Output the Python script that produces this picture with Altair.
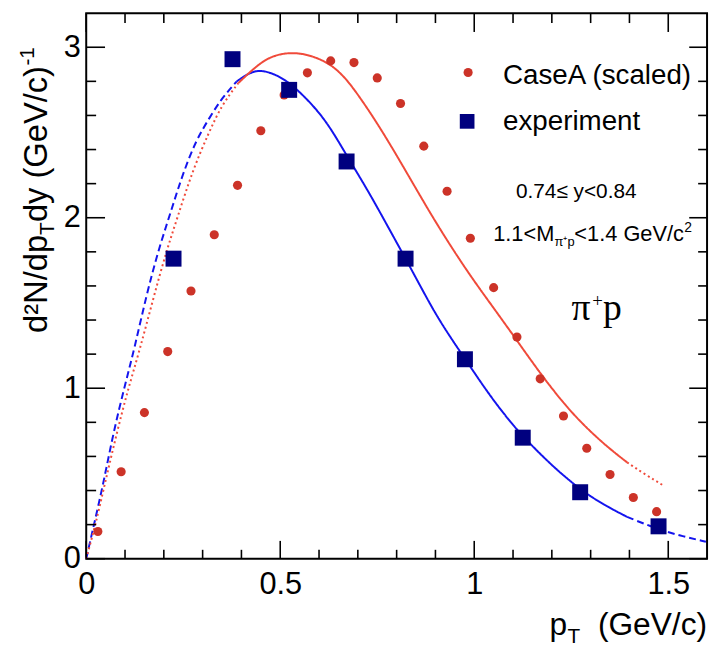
import altair as alt
import pandas as pd

# ---------------- data ----------------
casea_x = [0.03, 0.09, 0.15, 0.21, 0.27, 0.33, 0.39, 0.45, 0.51, 0.57, 0.63, 0.69, 0.75,
           0.81, 0.87, 0.93, 0.99, 1.05, 1.11, 1.17, 1.23, 1.29, 1.35, 1.41, 1.47]
casea_y = [0.16, 0.51, 0.857, 1.215, 1.57, 1.90, 2.19, 2.51, 2.72, 2.85, 2.92, 2.91, 2.82,
           2.67, 2.42, 2.155, 1.88, 1.59, 1.30, 1.055, 0.837, 0.648, 0.494, 0.359, 0.276]

exp_x = [0.225, 0.377, 0.523, 0.671, 0.823, 0.976, 1.125, 1.273, 1.475]
exp_y = [1.76, 2.93, 2.75, 2.33, 1.76, 1.17, 0.71, 0.39, 0.19]

blue_x = [0.0, 0.02, 0.045, 0.07, 0.10, 0.125, 0.155, 0.185, 0.206, 0.227, 0.248, 0.282,
          0.316, 0.349, 0.388, 0.42, 0.451, 0.50, 0.54, 0.58, 0.624, 0.675, 0.726, 0.777,
          0.823, 0.862, 0.904, 0.95, 0.98, 1.03, 1.081, 1.124, 1.20, 1.276, 1.335, 1.394,
          1.471, 1.53, 1.597]
blue_y = [0.0, 0.20, 0.45, 0.74, 1.02, 1.24, 1.545, 1.80, 1.95, 2.10, 2.25, 2.45,
          2.58, 2.70, 2.80, 2.85, 2.87, 2.83, 2.76, 2.67, 2.55, 2.35, 2.16, 1.95,
          1.76, 1.595, 1.42, 1.26, 1.16, 0.99, 0.835, 0.72, 0.545, 0.40, 0.315, 0.245,
          0.175, 0.135, 0.10]
blue_solid = (0.388, 1.394)

red_x = [0.0, 0.024, 0.049, 0.079, 0.106, 0.138, 0.172, 0.206, 0.235, 0.273, 0.316, 0.349,
         0.392, 0.443, 0.48, 0.523, 0.57, 0.624, 0.66, 0.692, 0.743, 0.794, 0.85, 0.904,
         0.98, 1.047, 1.107, 1.166, 1.22, 1.27, 1.335, 1.394, 1.44, 1.487]
red_y = [0.0, 0.20, 0.45, 0.74, 0.98, 1.225, 1.52, 1.80, 2.00, 2.27, 2.50, 2.66,
         2.79, 2.90, 2.95, 2.97, 2.96, 2.91, 2.84, 2.75, 2.58, 2.39, 2.17, 1.96,
         1.69, 1.48, 1.29, 1.10, 0.94, 0.81, 0.67, 0.565, 0.495, 0.43]
red_solid = (0.392, 1.394)

x_major = [0.0, 0.5, 1.0, 1.5]
x_minor = [0.1, 0.2, 0.3, 0.4, 0.6, 0.7, 0.8, 0.9, 1.1, 1.2, 1.3, 1.4]
y_major = [0, 1, 2, 3]
y_minor = [0.2, 0.4, 0.6, 0.8, 1.2, 1.4, 1.6, 1.8, 2.2, 2.4, 2.6, 2.8]

# ---------------- style ----------------
W, H = 627, 551
BLUE_LINE = "#1414ee"
RED_LINE = "#f04a3a"
RED_DOT = "#cc3328"
NAVY = "#00007f"
FONT = "Liberation Sans"

xscale = alt.Scale(domain=[0, 1.6], nice=False, zero=False)
yscale = alt.Scale(domain=[0, 3.2], nice=False, zero=False)
XAX = alt.Axis(values=x_major, labelExpr="toString(datum.value)", labelPadding=11,
               labelFlush=False, labelOverlap=False, grid=False, ticks=False,
               domain=False, labelFontSize=31, labelFont=FONT, labelColor="black")
YAX = alt.Axis(values=y_major, labelExpr="toString(datum.value)", labelPadding=6,
               labelFlush=False, labelOverlap=False, grid=False, ticks=False,
               domain=False, labelFontSize=31, labelFont=FONT, labelColor="black")


def X(field):
    return alt.X(field, scale=xscale, axis=XAX, title="")


def Y(field):
    return alt.Y(field, scale=yscale, axis=YAX, title="")


# ---------------- curves ----------------
rows = []
for name, xs, ys, (lo, hi), style in [("blue", blue_x, blue_y, blue_solid, "dash"),
                                       ("red", red_x, red_y, red_solid, "dot")]:
    for xv, yv in zip(xs, ys):
        if xv <= lo:
            rows.append(dict(x=xv, y=yv, series=name, style=style, grp=name + "0"))
        if lo <= xv <= hi:
            rows.append(dict(x=xv, y=yv, series=name, style="solid", grp=name + "1"))
        if xv >= hi:
            rows.append(dict(x=xv, y=yv, series=name, style=style, grp=name + "2"))
curves = pd.DataFrame(rows)

lines = alt.Chart(curves).mark_line(strokeWidth=2, interpolate="basis").encode(
    x=X("x:Q"),
    y=Y("y:Q"),
    color=alt.Color("series:N", scale=alt.Scale(domain=["blue", "red"], range=[BLUE_LINE, RED_LINE]),
                    legend=None),
    strokeDash=alt.StrokeDash("style:N",
                              scale=alt.Scale(domain=["solid", "dash", "dot"],
                                              range=[[1, 0], [7, 4], [2, 3]]),
                              legend=None),
    detail="grp:N",
    order="x:Q",
)

dots = alt.Chart(pd.DataFrame({"x": casea_x, "y": casea_y})).mark_circle(
    size=85, color=RED_DOT, opacity=1).encode(x=X("x:Q"), y=Y("y:Q"))

squares = alt.Chart(pd.DataFrame({"x": exp_x, "y": exp_y})).mark_square(
    size=260, color=NAVY, opacity=1).encode(x=X("x:Q"), y=Y("y:Q"))


# ---------------- ticks (inward, ROOT style) ----------------
def xticks(vals, length, top):
    df = pd.DataFrame({"x": vals})
    if top:
        yy, yy2 = alt.value(0), alt.value(length)
    else:
        yy, yy2 = alt.value(H), alt.value(H - length)
    return alt.Chart(df).mark_rule(color="black", strokeWidth=1.6).encode(
        x=X("x:Q"), y=yy, y2=yy2)


def yticks(vals, length, right):
    df = pd.DataFrame({"y": vals})
    if right:
        xx, xx2 = alt.value(W), alt.value(W - length)
    else:
        xx, xx2 = alt.value(0), alt.value(length)
    return alt.Chart(df).mark_rule(color="black", strokeWidth=1.6).encode(
        y=Y("y:Q"), x=xx, x2=xx2)


ticks = [xticks(x_major, 18, False), xticks(x_minor, 9, False),
         xticks(x_major, 19, True), xticks(x_minor, 10, True),
         yticks(y_major, 19, False), yticks(y_minor, 10, False),
         yticks(y_major, 18, True), yticks(y_minor, 9, True)]


# ---------------- text ----------------
def txt(s, x, y, size, align="left", angle=0, font=FONT, baseline="alphabetic"):
    return alt.Chart(pd.DataFrame({"t": [s]})).mark_text(
        text=s, fontSize=size, font=font, align=align, baseline=baseline,
        angle=angle, color="black").encode(x=alt.value(x), y=alt.value(y))


texts = [
    # legend
    txt("CaseA (scaled)", 421, 71.5, 28),
    txt("experiment", 421, 118, 28),
    # annotations
    txt("0.74\u2264 y<0.84", 434, 186.5, 21),
    txt("1.1<M", 411, 230, 22),
    txt("\u03c0\u207ap", 473, 235, 13),
    txt("<1.4 GeV/c", 493, 230, 22),
    txt("2", 604, 221, 14),
    txt("\u03c0", 490, 310, 38, font="Liberation Serif"),
    txt("+", 511, 297, 19, font="Liberation Serif"),
    txt("p", 522, 310, 38, font="Liberation Serif"),
    # x title
    txt("p", 468, 628, 32),
    txt("T", 486, 636, 21),
    txt("(GeV/c)", 627, 628, 32, align="right"),
    # y title (rotated)
    txt("d\u00b2N/dp", -40, 323, 33, angle=270),
    txt("T", -33, 224, 21, angle=270),
    txt(" dy (GeV/c)", -40, 211, 33, angle=270),
    txt("-1", -53, 53, 21, angle=270),
]

leg_dot = alt.Chart(pd.DataFrame({"a": [0]})).mark_circle(
    size=85, color=RED_DOT, opacity=1).encode(x=alt.value(385.7), y=alt.value(60))
leg_sq = alt.Chart(pd.DataFrame({"a": [0]})).mark_square(
    size=220, color=NAVY, opacity=1).encode(x=alt.value(384.7), y=alt.value(109.3))

chart = alt.layer(lines, dots, squares, *ticks, leg_dot, leg_sq, *texts).properties(
    width=W, height=H, autosize="none",
    padding={"left": 79, "top": 2, "right": 5, "bottom": 90},
).configure_view(stroke="black", strokeWidth=2)

chart.save("out.html", embed_options={"renderer": "svg", "actions": False})
